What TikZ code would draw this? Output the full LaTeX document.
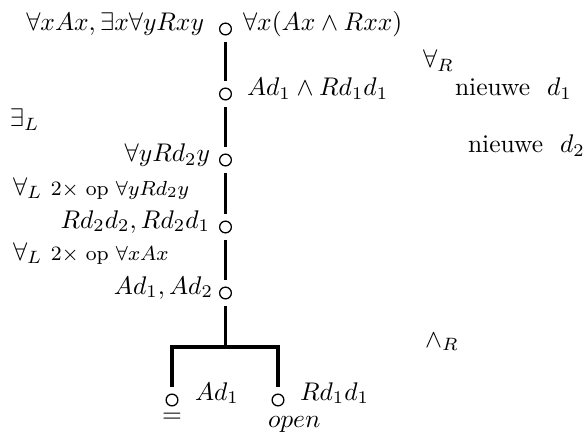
\documentclass[tikz,border=0pt]{standalone}
\begin{document}
\begin{tikzpicture}[x=0.392pt,y=-0.392pt,
  vtx/.style={circle,draw,line width=0.5pt,inner sep=0pt,minimum size=4.6pt},
  edge/.style={line width=1.2pt,shorten <=2.6pt,shorten >=2.6pt},
  lbl/.style={inner sep=0pt,outer sep=0pt}]
\useasboundingbox (0,0) rectangle (587,434);
% vertices
\node[vtx] (c1) at (225.5,29) {};
\node[vtx] (c2) at (225.5,94) {};
\node[vtx] (c3) at (225.5,160) {};
\node[vtx] (c4) at (225.5,227) {};
\node[vtx] (c5) at (225.5,293) {};
\node[vtx] (cL) at (172,400) {};
\node[vtx] (cR) at (278,400) {};
\coordinate (j) at (225.5,347);
% connectors
\draw[edge] (c1) -- (c2);
\draw[edge] (c2) -- (c3);
\draw[edge] (c3) -- (c4);
\draw[edge] (c4) -- (c5);
\draw[line width=1.2pt,shorten <=2.6pt] (c5) -- (j);
\draw[edge,line join=miter] (cL) -- (cL |- j) -- (cR |- j) -- (cR);
% labels
\node[lbl,anchor=base east] (t1) at (204,31) {$\forall xAx, \exists x\forall yRxy$};
\node[lbl,anchor=base west] (t2) at (243,31) {$\forall x(Ax\wedge Rxx)$};
\node[lbl,anchor=base west] (t3) at (247,96) {$Ad_1\wedge Rd_1d_1$};
\node[lbl,anchor=base west] (t4) at (423,68) {$\forall_R$};
\node[lbl,anchor=base west] (t5) at (455,96) {nieuwe\ \ $d_1$};
\node[lbl,anchor=base west] (t6) at (10,127) {$\exists_L$};
\node[lbl,anchor=base east] (t7) at (210,162) {$\forall yRd_2y$};
\node[lbl,anchor=base west] (t8) at (468,153) {nieuwe\ \ $d_2$};
\node[lbl,anchor=base west] (t9) at (13,195) {$\forall_L$\ {\footnotesize 2$\times$\ op $\forall yRd_2y$}};
\node[lbl,anchor=base east] (t10) at (210,228) {$Rd_2d_2, Rd_2d_1$};
\node[lbl,anchor=base west] (t11) at (13,260) {$\forall_L$\ {\footnotesize 2$\times$\ op $\forall xAx$}};
\node[lbl,anchor=base east] (t12) at (213,294) {$Ad_1, Ad_2$};
\node[lbl,anchor=base west] (t13) at (425,347) {$\wedge_R$};
\node[lbl,anchor=base west] (t14) at (195,400) {$Ad_1$};
\node[lbl,anchor=base west] (t15) at (300,400) {$Rd_1d_1$};
\node[lbl,anchor=center] (t16) at (172,418) {$=$};
\node[lbl,anchor=base west] (t17) at (268,427) {$open$};
\end{tikzpicture}
\end{document}
